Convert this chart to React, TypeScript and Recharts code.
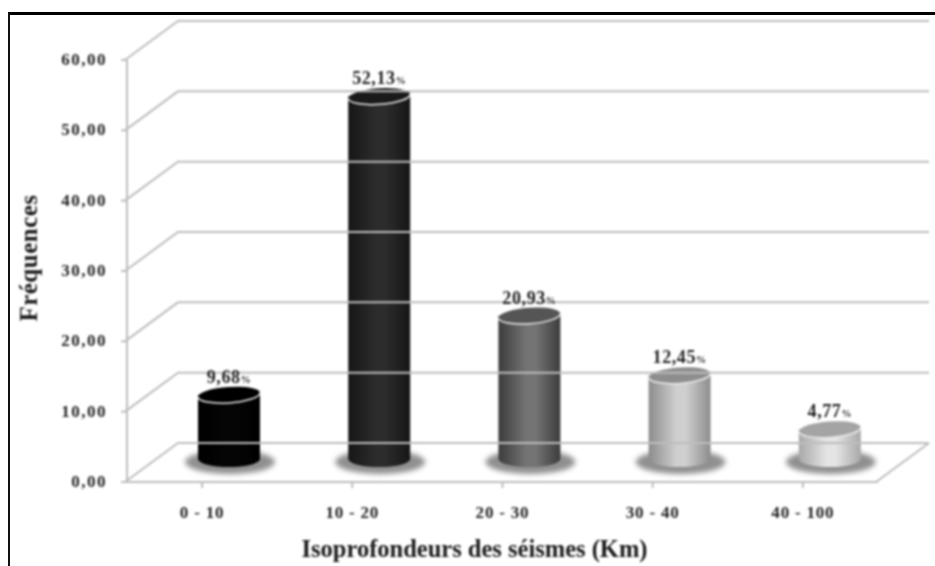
import React from "react";
import { BarChart, Bar, XAxis, YAxis, LabelList, Label, Cell } from "recharts";

const categories = ["0 - 10", "10 - 20", "20 - 30", "30 - 40", "40 - 100"];
const frequencies = [9.68, 52.13, 20.93, 12.45, 4.77];
const valueLabels = ["9,68", "52,13", "20,93", "12,45", "4,77"];
const yTicks = [0, 10, 20, 30, 40, 50, 60];

// edge / centre / top-ellipse colours of each cylinder
const sideEdge = ["#000000", "#161616", "#3c3c3c", "#8c8c8c", "#a8a8a8"];
const sideMid = ["#050505", "#2c2c2c", "#747474", "#cfcfcf", "#e4e4e4"];
const topFill = ["#000000", "#1a1a1a", "#555555", "#8e8e8e", "#a4a4a4"];

const data = categories.map((name, i) => ({
  name,
  value: frequencies[i],
  label: valueLabels[i],
}));

const SERIF = "'Liberation Serif', serif";
const GRID = "#bdbdbd";
const TEXT = "#222222";

// fake 3D depth of the plot box
const DEPTH_X = 53;
const DEPTH_Y = 39;
// the cylinders stand in the middle of the floor
const BAR_DX = 27;
const BAR_DY = 19;
const BASE_LIFT = 4;
const PLOT_WIDTH = 751;

const DepthTick = (props: any) => {
  const { x, y, payload } = props;
  const isFloor = payload.value === 0;
  const px = x + 6;
  return (
    <g>
      <polyline
        points={`${px},${y} ${px + DEPTH_X},${y - DEPTH_Y} ${px + DEPTH_X + PLOT_WIDTH},${y - DEPTH_Y}`}
        fill="none"
        stroke={GRID}
        strokeWidth={2}
      />
      {isFloor && (
        <line
          x1={px + PLOT_WIDTH}
          y1={y}
          x2={px + DEPTH_X + PLOT_WIDTH}
          y2={y - DEPTH_Y}
          stroke={GRID}
          strokeWidth={2}
        />
      )}
      <text
        x={x - 12}
        y={y + 5}
        textAnchor="end"
        fontFamily={SERIF}
        fontWeight="bold"
        fontSize={17}
        letterSpacing={1.5}
        fill={TEXT}
      >
        {payload.value.toFixed(2).replace(".", ",")}
      </text>
    </g>
  );
};

const Cylinder = (props: any) => {
  const { x, y, width, height, index } = props;
  const cx = x + width / 2 + BAR_DX;
  const rx = width / 2;
  const ry = 8;
  const top = y - BAR_DY;
  const bottom = y + height - BAR_DY - BASE_LIFT;
  const left = cx - rx;
  const right = cx + rx;
  return (
    <g>
      <defs>
        <linearGradient id={`side-${index}`} x1="0" y1="0" x2="1" y2="0">
          <stop offset="0" stopColor={sideEdge[index]} />
          <stop offset="0.45" stopColor={sideMid[index]} />
          <stop offset="0.6" stopColor={sideMid[index]} />
          <stop offset="1" stopColor={sideEdge[index]} />
        </linearGradient>
        <filter id={`soft-${index}`} x="-20%" y="-50%" width="140%" height="200%">
          <feGaussianBlur stdDeviation="2.5" />
        </filter>
      </defs>
      <ellipse
        cx={cx + 1}
        cy={bottom + 3}
        rx={rx + 14}
        ry={ry + 4}
        fill="#8f8f8f"
        filter={`url(#soft-${index})`}
      />
      <path
        d={`M${left},${top} L${left},${bottom} A${rx},${ry} 0 0 0 ${right},${bottom} L${right},${top} Z`}
        fill={`url(#side-${index})`}
      />
      <g transform={`rotate(-4 ${cx} ${top})`}>
        <ellipse cx={cx} cy={top} rx={rx} ry={ry} fill={topFill[index]} />
        <path
          d={`M${left},${top} A${rx},${ry} 0 0 0 ${right},${top}`}
          fill="none"
          stroke="#ececec"
          strokeWidth={1.5}
        />
      </g>
    </g>
  );
};

const ValueLabel = (props: any) => {
  const { x, y, width, index } = props;
  return (
    <text
      x={x + width / 2 + BAR_DX}
      y={y - BAR_DY - 12}
      textAnchor="middle"
      fontFamily={SERIF}
      fontWeight="bold"
      fontSize={18}
      letterSpacing={0.6}
      fill={TEXT}
    >
      {valueLabels[index]}
      <tspan fontSize={10}>%</tspan>
    </text>
  );
};

export default function App() {
  return (
    <div
      style={{
        position: "absolute",
        left: 0,
        top: 0,
        width: 935,
        height: 566,
        background: "#ffffff",
        overflow: "hidden",
      }}
    >
      <div
        style={{
          position: "absolute",
          left: 8,
          top: 12,
          width: 940,
          height: 570,
          borderLeft: "2px solid #111",
          borderTop: "3px solid #000",
        }}
      />
      <div style={{ position: "absolute", left: 0, top: 0, filter: "blur(0.8px)" }}>
        <BarChart
          width={935}
          height={566}
          data={data}
          margin={{ top: 60, right: 57, bottom: 0, left: 0 }}
          barCategoryGap={44}
        >
          <YAxis
            width={127}
            domain={[0, 60]}
            ticks={yTicks}
            interval={0}
            axisLine={{ stroke: GRID, strokeWidth: 2 }}
            tickLine={{ stroke: GRID, strokeWidth: 2 }}
            tickSize={6}
            tick={<DepthTick />}
          >
            <Label
              value="Fréquences"
              angle={-90}
              position="insideLeft"
              offset={0}
              dx={28}
              dy={-13}
              fontFamily={SERIF}
              fontWeight="bold"
              fontSize={25}
              letterSpacing={0.5}
              fill="#1a1a1a"
              style={{ textAnchor: "middle" }}
            />
          </YAxis>
          <XAxis
            dataKey="name"
            height={84}
            interval={0}
            axisLine={{ stroke: GRID, strokeWidth: 2 }}
            tickLine={{ stroke: GRID, strokeWidth: 2 }}
            tickSize={6}
            tickMargin={18}
            tick={{
              fontFamily: SERIF,
              fontWeight: "bold",
              fontSize: 17,
              fill: TEXT,
              letterSpacing: 0.8,
            }}
          >
            <Label
              value="Isoprofondeurs des séismes (Km)"
              position="insideBottom"
              offset={9}
              dx={-28}
              fontFamily={SERIF}
              fontWeight="bold"
              fontSize={24.5}
              fill="#1a1a1a"
            />
          </XAxis>
          <Bar
            dataKey="value"
            isAnimationActive={false}
            shape={<Cylinder />}
          >
            {data.map((d) => (
              <Cell key={d.name} />
            ))}
            <LabelList dataKey="label" content={<ValueLabel />} />
          </Bar>
        </BarChart>
      </div>
    </div>
  );
}
